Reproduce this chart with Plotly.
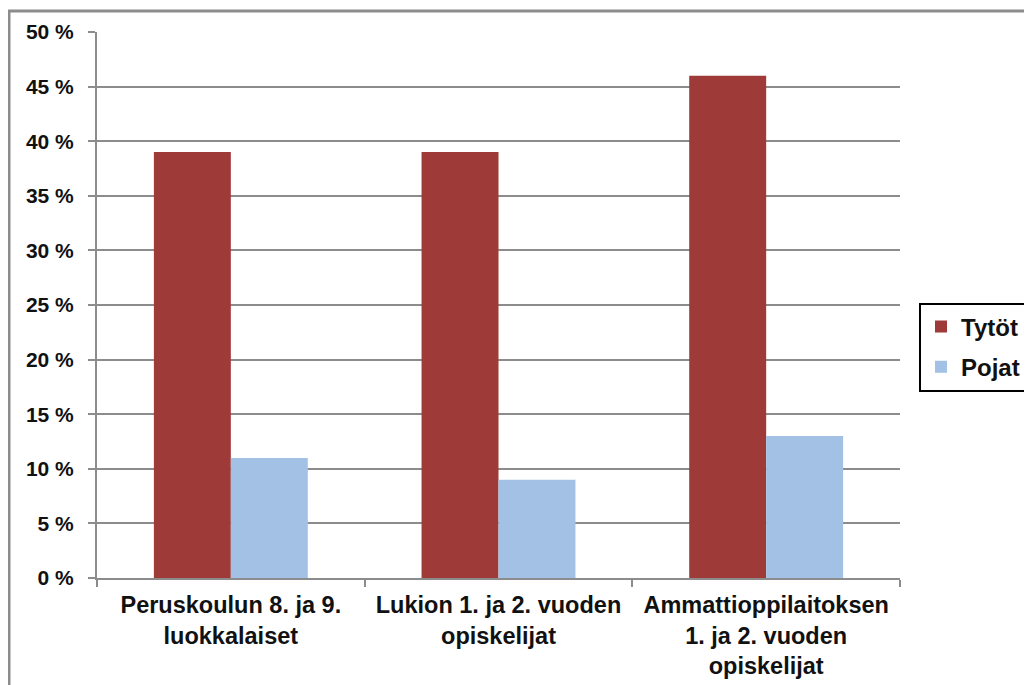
import plotly.graph_objects as go

categories = ["Peruskoulun 8. ja 9.<br>luokkalaiset",
              "Lukion 1. ja 2. vuoden<br>opiskelijat",
              "Ammattioppilaitoksen<br>1. ja 2. vuoden<br>opiskelijat"]
tytot = [39, 39, 46]
pojat = [11, 9, 13]
y_ticks = [0, 5, 10, 15, 20, 25, 30, 35, 40, 45, 50]

OFF = 8  # browser body margin
W, H = 1032, 685 - OFF
L, T = 97 - OFF, 32 - OFF
R = W - (900 - OFF)
B = H - (578 - OFF)
pw, ph = W - L - R, H - T - B

FONT = "Liberation Sans, Arial, sans-serif"

fig = go.Figure()
fig.add_trace(go.Bar(x=categories, y=tytot, name="<b>Tytöt</b>", marker_color="#9E3B39",
                     marker_line_width=0, legendgroup="a"))
fig.add_trace(go.Bar(x=categories, y=pojat, name="<b>Pojat</b>", marker_color="#A2C1E5",
                     marker_line_width=0, legendgroup="b"))

fig.update_layout(
    width=W, height=H,
    margin=dict(l=L, r=R, t=T, b=B, pad=0),
    paper_bgcolor="white", plot_bgcolor="white",
    barmode="group", bargap=0.425, bargroupgap=0,
    font=dict(family=FONT, size=18, color="#111111"),
    showlegend=True,
    legend=dict(x=(919 - 97) / pw, y=(578 - 347) / ph, xanchor="left", yanchor="middle",
                bordercolor="black", borderwidth=2, bgcolor="white",
                font=dict(family=FONT, size=24, color="#111111"),
                itemwidth=30, tracegroupgap=6),
    xaxis=dict(type="category", showline=True, linecolor="#8c8c8c", linewidth=2,
               ticks="outside", tickson="boundaries", ticklen=7, tickcolor="#8c8c8c",
               tickwidth=2, showgrid=False, tickfont=dict(size=23.5),
               ticklabelstandoff=5, automargin=False,
               tickvals=categories,
               ticktext=["<b>" + c.replace("<br>", "</b><br><b>") + "</b>" for c in categories]),
    yaxis=dict(range=[0, 50], tickvals=y_ticks,
               ticktext=[f"<b>{v} %</b>" for v in y_ticks],
               showline=True, linecolor="#8c8c8c", linewidth=2, showgrid=True,
               gridcolor="#8c8c8c", gridwidth=2, ticks="outside", ticklen=7,
               tickcolor="#8c8c8c", tickwidth=2, tickfont=dict(size=21),
               ticklabelstandoff=10, zeroline=False, automargin=False),
)

# outer frame (right and bottom edges lie outside the picture)
fig.add_shape(type="rect", xref="paper", yref="paper",
              x0=(9 - 97) / pw, x1=(1050 - 97) / pw,
              y0=-(B + 15) / ph, y1=1 + (T - 3) / ph,
              line=dict(color="#8c8c8c", width=3), fillcolor="rgba(0,0,0,0)", layer="below")

fig.write_html("out.html")
